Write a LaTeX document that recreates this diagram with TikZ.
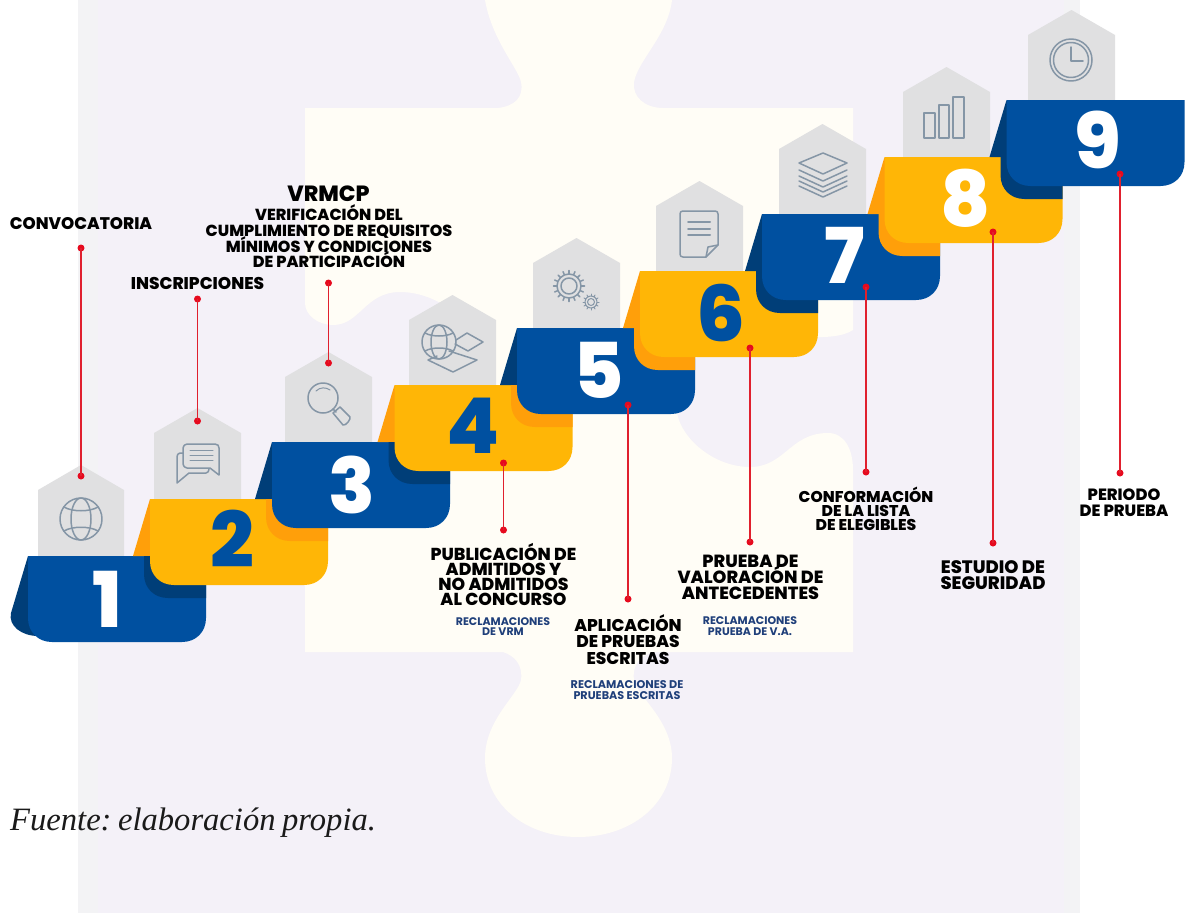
\documentclass[tikz,border=0pt]{standalone}
\usepackage{fontspec}
\setmainfont{Liberation Serif}
\newfontfamily\labfont{Poppins ExtraBold}
\newfontfamily\subfont{Poppins}[BoldFont=* Bold]
\definecolor{lav}{HTML}{F4F1F8}
\definecolor{strip}{HTML}{F3F3F5}
\definecolor{pale}{HTML}{FFFDF6}
\definecolor{sblue}{HTML}{0050A0}
\definecolor{dblue}{HTML}{003E78}
\definecolor{syel}{HTML}{FFB606}
\definecolor{dyel}{HTML}{FF9F0A}
\definecolor{tagc}{HTML}{E0E0E1}
\definecolor{iconc}{HTML}{8596A6}
\definecolor{redl}{HTML}{E0202E}
\definecolor{redd}{HTML}{E60A1E}
\definecolor{subc}{HTML}{1F3F7A}
\lineskiplimit=-30pt
\newcommand{\bodypath}[2]{(#1,#2) -- (#1+178,#2) -- (#1+178,#2+62) .. controls (#1+178,#2+76) and (#1+168,#2+86) .. (#1+154,#2+86) -- (#1+24,#2+86) .. controls (#1+10,#2+86) and (#1,#2+76) .. (#1,#2+62) -- cycle}
% n, x, y, prevx, prevy, main, wedge, shadow
\newcommand{\stepshape}[8]{%
  \fill[#7] (#2,#3) -- (#2-17,#3+57) -- (#2+10,#3+57) -- cycle;
  \begin{scope}
    \clip \bodypath{#4}{#5};
    \fill[#8] \bodypath{#2-6}{#3+13};
  \end{scope}
  \fill[#6] \bodypath{#2}{#3};
}
% left right apex bottom
\newcommand{\tagshape}[4]{\fill[tagc] (#1,#3+25) -- ({(#1+#2)/2},#3) -- (#2,#3+25) -- (#2,#4) -- (#1,#4) -- cycle;}
\tikzset{
  lbl/.style={align=center,inner sep=0pt,text=black},
  sublbl/.style={align=center,inner sep=0pt,text=subc},
  icon/.style={draw=iconc,line width=1.5pt,line join=round,line cap=round},
  redline/.style={draw=redl,line width=1.8pt},
  reddot/.style={circle,fill=redd,minimum size=7pt,inner sep=0pt},
  numlbl/.style={inner sep=0pt,font=\labfont\fontsize{77}{77}\selectfont}
}
\begin{document}
\begin{tikzpicture}[x=1pt,y=-1pt]
\useasboundingbox (0,0) rectangle (1186,913);
\fill[white] (0,0) rectangle (1186,913);
\fill[lav] (78,0) rectangle (1080,913);
\fill[strip] (78,0) rectangle (98,913);
\fill[strip] (1064,0) rectangle (1080,913);
% puzzle piece
\fill[pale] (305,108) -- (498,108) .. controls (515,106) and (524,97) .. (521,82) .. controls (518,68) and (492,40) .. (485,0) -- (672,0) .. controls (668,35) and (638,60) .. (634,82) .. controls (632,97) and (645,108) .. (663,108) -- (853,108) -- (853,330) .. controls (830,345) and (780,330) .. (730,340) .. controls (690,350) and (670,385) .. (677,413) .. controls (682,440) and (715,467) .. (750,467) .. controls (785,467) and (790,433) .. (828,433) .. controls (845,433) and (853,450) .. (853,470) -- (853,652) -- (653,652) .. controls (640,656) and (632,665) .. (634,680) .. controls (636,695) and (672,720) .. (672,758) .. controls (672,805) and (630,837) .. (578,837) .. controls (526,837) and (485,805) .. (485,758) .. controls (485,720) and (518,695) .. (521,680) .. controls (523,665) and (515,656) .. (503,652) -- (305,652) -- (305,500) .. controls (340,480) and (380,450) .. (420,445) .. controls (470,440) and (490,400) .. (485,365) .. controls (480,325) and (440,292) .. (400,292) .. controls (365,292) and (360,325) .. (333,325) .. controls (318,325) and (305,315) .. (305,303) -- cycle;
% tags
\tagshape{38}{124}{465}{556}
\tagshape{154}{241}{408}{499}
\tagshape{285}{372}{352}{442}
\tagshape{409}{496}{295}{385}
\tagshape{533}{620}{238}{328}
\tagshape{656}{743}{181}{271}
\tagshape{779}{866}{124}{214}
\tagshape{903}{990}{67}{157}
\tagshape{1028}{1115}{10}{100}
% step 1
\fill[dblue] (28,556) -- (11,613) .. controls (8,626) and (22,636) .. (38,636) -- (50,600) -- cycle;
\fill[sblue] \bodypath{28}{556};
\stepshape{2}{150}{499}{28}{556}{syel}{dyel}{dblue}
\stepshape{3}{272}{442}{150}{499}{sblue}{dblue}{dyel}
\stepshape{4}{394.5}{385}{272}{442}{syel}{dyel}{dblue}
\stepshape{5}{517}{328}{394.5}{385}{sblue}{dblue}{dyel}
\stepshape{6}{640}{271}{517}{328}{syel}{dyel}{dyel}
\stepshape{7}{762}{214}{640}{271}{sblue}{dblue}{dblue}
\stepshape{8}{884.5}{157}{762}{214}{syel}{dyel}{dyel}
\stepshape{9}{1006.5}{100}{884.5}{157}{sblue}{dblue}{dblue}
% numbers
\node[numlbl,text=white] (num1) at (107,599) {1};
\node[numlbl,text=sblue] (num2) at (232,539) {2};
\node[numlbl,text=white] (num3) at (352,485) {3};
\node[numlbl,text=sblue] (num4) at (473,426) {4};
\node[numlbl,text=white] (num5) at (599,370) {5};
\node[numlbl,text=sblue] (num6) at (721,313) {6};
\node[numlbl,text=white] (num7) at (845,255) {7};
\node[numlbl,text=white] (num8) at (966,198) {8};
\node[numlbl,text=white] (num9) at (1098,140) {9};
% icons
% 1 globe
\draw[icon] (81,519) circle (21);
\draw[icon] (81,519) ellipse (10 and 21);
\draw[icon] (64,507) .. controls (72,512) and (90,512) .. (98,507);
\draw[icon] (64,531) .. controls (72,526) and (90,526) .. (98,531);
% 2 chat
\draw[icon] (187,444) -- (215,444) .. controls (218,444) and (219,446) .. (219,448) -- (219,475) -- (210,468) -- (187,468) .. controls (185,468) and (183,466) .. (183,464) -- (183,448) .. controls (183,446) and (185,444) .. (187,444) -- cycle;
\draw[icon] (183,453) -- (180,453) .. controls (178,453) and (177,455) .. (177,457) -- (177,483) -- (189,473) -- (206,473) .. controls (208,473) and (209,471) .. (209,469);
\draw[icon,line width=1pt] (190,450) -- (213,450) (190,455) -- (213,455) (190,460) -- (213,460);
% 3 magnifier
\draw[icon] (323,398) circle (15);
\draw[icon,line width=1pt] (316,391) .. controls (320,387) and (326,387) .. (330,390);
\draw[icon] (333,409) -- (336,412);
\draw[icon] (333,413) -- (340,407) -- (350,417) .. controls (351,419) and (346,426) .. (343,425) -- cycle;
% 4 globe + planes
\draw[icon] (439,342) circle (17);
\draw[icon] (439,342) ellipse (8 and 17);
\draw[icon] (425,333) .. controls (432,337) and (446,337) .. (453,333);
\draw[icon] (425,351) .. controls (432,347) and (446,347) .. (453,351);
\draw[icon] (456,340) -- (467,333) -- (483,342) -- (468,351) -- (455,344);
\draw[icon] (449,351) -- (477,360) -- (453,372) -- (428,360) -- (437,356);
% 5 gears
\draw[icon] (569,286) circle (12);
\draw[icon] (569,286) circle (8);
\foreach \a in {0,22.5,...,337.5}{\draw[icon] (569,286) ++(\a:12) -- ++(\a:3.5);}
\draw[icon,line width=1pt] (591,302) circle (6);
\draw[icon,line width=1pt] (591,302) circle (3.5);
\foreach \a in {0,30,...,330}{\draw[icon,line width=1pt] (591,302) ++(\a:6) -- ++(\a:2);}
% 6 document
\draw[icon] (683,211) -- (715,211) .. controls (717,211) and (718,212) .. (718,214) -- (718,245) -- (706,257) -- (683,257) .. controls (681,257) and (680,256) .. (680,254) -- (680,214) .. controls (680,212) and (681,211) .. (683,211) -- cycle;
\draw[icon] (718,245) -- (708,247) -- (706,257);
\draw[icon,line width=2pt] (688,222) -- (710,222) (688,228.5) -- (710,228.5) (688,235) -- (710,235);
% 7 layers
\draw[icon] (823,153) -- (847,163) -- (823,174) -- (799,163) -- cycle;
\foreach \d in {170,176,181,186}{\draw[icon] (799,\d) -- (823,\d+11) -- (847,\d);}
% 8 bars
\draw[icon] (924,113) rectangle (935,138);
\draw[icon] (939,105) rectangle (949,138);
\draw[icon] (953,97) rectangle (964,138);
% 9 clock
\draw[icon] (1071,60) circle (21);
\draw[icon] (1071,60) circle (17.5);
\draw[icon] (1071,47) -- (1071,61) -- (1083,61);
% leader lines
\node[reddot] (a1) at (81,248) {};   \node[reddot] (b1) at (81,476) {};
\node[reddot] (a2) at (197.5,299) {}; \node[reddot] (b2) at (197.5,421) {};
\node[reddot] (a3) at (328.5,283) {}; \node[reddot] (b3) at (328.5,363) {};
\node[reddot] (a4) at (503.5,463) {}; \node[reddot] (b4) at (503.5,530) {};
\node[reddot] (a5) at (628,405) {};  \node[reddot] (b5) at (628,599) {};
\node[reddot] (a6) at (750,348) {};  \node[reddot] (b6) at (750,542) {};
\node[reddot] (a7) at (866,287) {};  \node[reddot] (b7) at (866,472) {};
\node[reddot] (a8) at (993,232) {};  \node[reddot] (b8) at (993,543) {};
\node[reddot] (a9) at (1120,174) {}; \node[reddot] (b9) at (1120,473) {};
\foreach \i in {1,...,9}{\draw[redline] (a\i.center) -- (b\i.center);}
% labels
\node[lbl,font=\labfont\fontsize{16.8}{15}\selectfont] (t1) at (81,223.5) {CONVOCATORIA};
\node[lbl,font=\labfont\fontsize{17}{15}\selectfont] (t2) at (197.5,283) {INSCRIPCIONES};
\node[lbl,font=\labfont\fontsize{22}{22}\selectfont] (t3a) at (328.5,194) {VRMCP};
\node[lbl,font=\labfont\fontsize{16}{15.7}\selectfont] (t3b) at (329,236.5) {VERIFICACIÓN DEL\\CUMPLIMIENTO DE REQUISITOS\\MÍNIMOS Y CONDICIONES\\DE PARTICIPACIÓN};
\node[lbl,font=\labfont\fontsize{17.3}{15}\selectfont] (t4) at (503.5,574.5) {PUBLICACIÓN DE\\ADMITIDOS Y\\NO ADMITIDOS\\AL CONCURSO};
\node[sublbl,font=\subfont\bfseries\fontsize{11}{10.6}\selectfont] (s4) at (503,626.5) {RECLAMACIONES\\DE VRM};
\node[lbl,font=\labfont\fontsize{17}{16.3}\selectfont] (t5) at (628,639.5) {APLICACIÓN\\DE PRUEBAS\\ESCRITAS};
\node[sublbl,font=\subfont\bfseries\fontsize{11.2}{10.6}\selectfont] (s5) at (627,690) {RECLAMACIONES DE\\PRUEBAS ESCRITAS};
\node[lbl,font=\labfont\fontsize{17.6}{16}\selectfont] (t6) at (750.5,577) {PRUEBA DE\\VALORACIÓN DE\\ANTECEDENTES};
\node[sublbl,font=\subfont\bfseries\fontsize{11}{10.6}\selectfont] (s6) at (750,626) {RECLAMACIONES\\PRUEBA DE V.A.};
\node[lbl,font=\labfont\fontsize{15.6}{14}\selectfont] (t7) at (866,508.5) {CONFORMACIÓN\\DE LA LISTA\\DE ELEGIBLES};
\node[lbl,font=\labfont\fontsize{18}{16}\selectfont] (t8) at (993,575) {ESTUDIO DE\\SEGURIDAD};
\node[lbl,font=\labfont\fontsize{16.3}{16}\selectfont] (t9) at (1124,502.5) {PERIODO\\DE PRUEBA};
\node[anchor=base west,inner sep=0pt,font=\itshape\fontsize{32.6}{33}\selectfont,text={rgb,255:red,26;green,26;blue,26}] (fuente) at (10,830) {\spaceskip=6.5pt \xspaceskip=6.5pt Fuente: elaboración propia.};
\end{tikzpicture}
\end{document}
